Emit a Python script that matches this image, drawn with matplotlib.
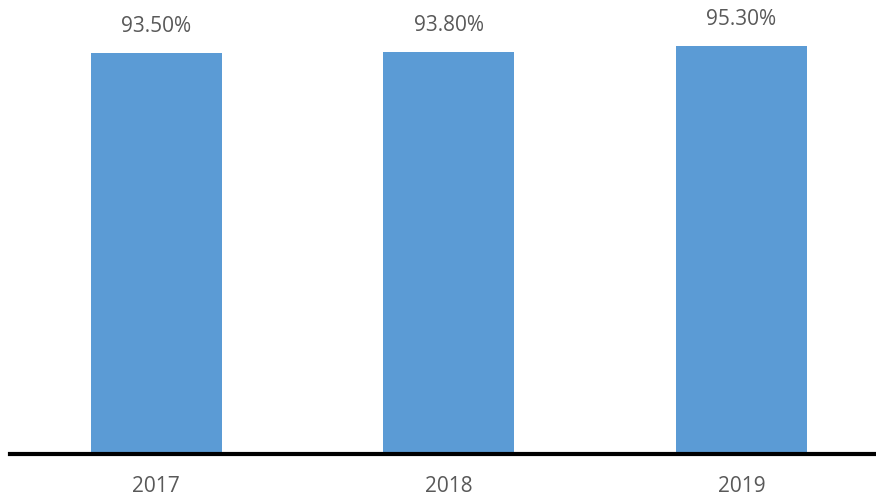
import matplotlib
matplotlib.use("Agg")
import matplotlib.pyplot as plt

years = ["2017", "2018", "2019"]
rates = [93.5, 93.8, 95.3]
labels = ["93.50%", "93.80%", "95.30%"]

plt.rcParams['font.family'] = ['Open Sans', 'DejaVu Sans']

fig = plt.figure(figsize=(8.76, 4.98), dpi=100)
ax = fig.add_axes([10 / 876, 46 / 498, 866 / 876, 452 / 498])

x = range(len(years))
bars = ax.bar(x, rates, width=0.448, color="#5B9BD5")
for b, t in zip(bars, labels):
    ax.annotate(t, (b.get_x() + b.get_width() / 2, b.get_height()),
                xytext=(0, 19), textcoords="offset points",
                ha="center", va="center", fontsize=15, color="#595959")

ax.set_xlim(-0.5, 2.46)
ax.set_ylim(0, 106)
ax.set_xticks(list(x))
ax.set_xticklabels(years)
ax.tick_params(axis="x", length=0, pad=16, labelsize=15, labelcolor="#595959")
ax.set_yticks([])
for s in ["top", "left", "right"]:
    ax.spines[s].set_visible(False)
ax.spines["bottom"].set_linewidth(3)
ax.spines["bottom"].set_color("black")
ax.spines["bottom"].set_position(("outward", 1.4))

fig.savefig("out.png", dpi=100)
